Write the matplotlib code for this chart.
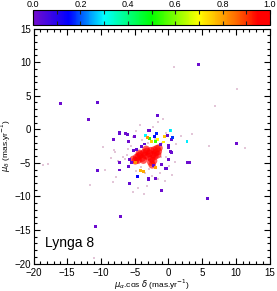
import numpy as np
import matplotlib
matplotlib.use('Agg')
import matplotlib.pyplot as plt
from matplotlib.colors import LinearSegmentedColormap
from matplotlib.ticker import MultipleLocator

plt.rcParams['font.family'] = ['Liberation Sans', 'DejaVu Sans']

# cluster members (high probability)
mem_pmra = [-5.2, -4.9, -4.7, -4.4, -4.1, -3.9, -3.6, -3.4, -3.2, -3.0, -2.8, -2.6,
            -2.5, -2.3, -2.1, -1.9, -1.7, -1.5, -2.6, -2.4, -4.5, -3.7, -1.4, -2.0,
            -3.3, -4.3, -1.6, -2.2]
mem_pmdec = [-4.5, -4.7, -4.2, -4.0, -3.8, -4.3, -3.5, -3.9, -3.3, -4.1, -3.6, -3.2,
             -4.4, -3.8, -3.1, -3.5, -2.9, -3.3, -4.9, -5.3, -4.6, -4.6, -2.8, -4.0,
             -3.0, -3.6, -3.8, -4.7]
mem_prob = [0.95, 0.97, 0.98, 0.96, 0.99, 0.97, 0.95, 0.98, 0.96, 0.97, 0.99, 0.95,
            0.96, 0.98, 0.97, 0.95, 0.96, 0.94, 0.95, 0.93, 0.97, 0.98, 0.94, 0.99,
            0.96, 0.97, 0.95, 0.96]

# stars with intermediate / low probability
pmra = [-16.0, -10.45, -11.84, -7.24, -8.13, -6.05, -2.88, 4.44, -1.55, 10.08,
        -10.5, -7.18, -5.76, -7.14, -10.74, -5.16, -2.98, 2.76, 3.2, 5.82,
        -0.95, -0.36, -1.0, -1.9, 0.43, -0.01, -0.2, 0.53, -2.79, -5.0,
        -5.9, -7.3, -6.3, 0.0, 0.28, -4.66, -5.4, -5.76, -5.9, -7.28,
        -2.94, -2.2, -0.95, -0.3, 0.0, -3.5, -4.0, -1.2,
        -3.38, 0.28, 2.76, 0.24,
        -4.6, -1.8, 0.6, -2.0, -2.8,
        -4.17, -1.94, -0.6, -0.7, -4.9, -3.68, -2.5, -1.6, -1.94, -3.1]
pmdec = [3.8, 3.98, 1.4, -0.5, -1.5, -0.72, -0.13, 9.62, 2.04, -2.06,
         -6.13, -6.07, -8.06, -12.96, -14.45, -3.1, -7.4, -4.94, -4.94, -10.33,
         -9.1, -5.88, -5.33, -7.3, -3.45, -2.7, -0.97, -1.46, -0.19, -1.07,
         -1.8, -0.57, -0.57, -2.46, -3.3, -2.95, -5.0, -4.54, -5.6, -5.0,
         -7.5, -5.4, -5.3, -5.9, -4.5, -2.2, -2.6, -2.3,
         -0.97, -0.23, -1.82, -0.23,
         -7.0, -0.68, -1.2, -1.1, -1.4,
         -6.17, -5.7, -1.07, -1.9, -5.0, -6.28, -1.8, -1.5, -1.82, -1.3]
prob = [0.01, 0.02, 0.01, 0.02, 0.01, 0.02, 0.01, 0.01, 0.02, 0.01,
        0.02, 0.01, 0.02, 0.01, 0.01, 0.02, 0.01, 0.01, 0.01, 0.02,
        0.01, 0.02, 0.02, 0.01, 0.02, 0.01, 0.02, 0.03, 0.02, 0.01,
        0.01, 0.02, 0.01, 0.02, 0.01, 0.02, 0.02, 0.01, 0.02, 0.01,
        0.02, 0.03, 0.01, 0.02, 0.01, 0.03, 0.02, 0.02,
        0.30, 0.31, 0.29, 0.28,
        0.15, 0.17, 0.18, 0.16, 0.52,
        0.78, 0.80, 0.76, 0.72, 0.82, 0.79, 0.75, 0.70, 0.55, 0.81]

# field stars (probability ~ 0)
fld_pmra = [-4.17, -4.76, -5.94, 0.83, 10.2, 6.86, -0.76, -1.55, 1.87, 3.55,
            -17.9, -18.6, -11.6, -11.0, -9.66, -8.03, -7.88, -9.4, -7.73, -8.2,
            -3.57, -5.3, 11.36, 0.92, -0.42, -0.5, -1.6, 6.07,
            -6.5, -6.0, -5.5, -3.0, -2.0, -1.0, -3.5, -2.5, -4.0, -6.8,
            -7.5, -8.5, -1.3, 0.5, -3.2, -4.5, -0.3, 1.2, -2.3, -5.2,
            -6.2, -4.8, -1.1, 0.1, -2.9, -3.9]
fld_pmdec = [0.66, -0.23, -1.82, 9.2, 6.0, 3.5, 1.5, 1.1, -0.97, -0.72,
             -5.2, -5.3, -8.3, -19.2, -2.65, -3.05, -3.35, -6.0, -7.17, -7.8,
             -9.6, -9.4, -2.86, -4.83, -4.14, -7.7, -7.4, -2.56,
             -4.5, -3.0, -2.5, -2.0, -1.5, -2.0, -6.5, -7.0, -5.7, -4.2,
             -4.8, -4.3, -6.5, -6.8, -8.5, -8.8, -0.5, -2.2, 0.3, -1.2,
             -3.8, -6.2, -4.2, -5.5, -5.9, -1.6]

cmap = LinearSegmentedColormap.from_list('idl', [
    (0.0, (0.45, 0.05, 0.80)),
    (0.15, (0.0, 0.0, 1.0)),
    (0.3, (0.0, 1.0, 1.0)),
    (0.5, (0.0, 1.0, 0.0)),
    (0.7, (1.0, 1.0, 0.0)),
    (0.85, (1.0, 0.45, 0.0)),
    (0.95, (1.0, 0.0, 0.0)),
    (1.0, (1.0, 0.0, 0.0))])

fig = plt.figure(figsize=(2.77, 2.91), dpi=100)
ax = fig.add_axes([0.121, 0.0945, 0.852, 0.8075])

ax.scatter(fld_pmra, fld_pmdec, s=2.5, marker='s', color='#e3c6d8', linewidths=0)
ax.scatter(mem_pmra, mem_pmdec, c=mem_prob, cmap=cmap, vmin=0, vmax=1, s=30,
           marker='o', linewidths=0, alpha=0.65)
ax.scatter(pmra, pmdec, c=prob, cmap=cmap, vmin=0, vmax=1, s=4.5, marker='s',
           linewidths=0)

ax.set_xlim(-20, 15)
ax.set_ylim(-20, 15)
ax.xaxis.set_major_locator(MultipleLocator(5))
ax.yaxis.set_major_locator(MultipleLocator(5))
ax.xaxis.set_minor_locator(MultipleLocator(1))
ax.yaxis.set_minor_locator(MultipleLocator(1))
ax.tick_params(which='both', direction='in', top=True, right=True, labelsize=7,
               width=0.8, pad=2)
ax.tick_params(axis='x', which='both', pad=3)
ax.tick_params(which='major', length=4)
ax.tick_params(which='minor', length=2)
for s in ax.spines.values():
    s.set_linewidth(0.8)

ax.set_xlabel(r'$\mu_\alpha$.cos $\delta$ (mas.yr$^{-1}$)', fontsize=6, va='top')
ax.xaxis.set_label_coords(0.5, -0.058)
ax.set_ylabel(r'$\mu_\delta$ (mas.yr$^{-1}$)', fontsize=6, labelpad=1)
ax.text(-18.3, -17.6, 'Lynga 8', fontsize=10)

cax = fig.add_axes([0.119, 0.914, 0.856, 0.052])
cb = fig.colorbar(plt.cm.ScalarMappable(cmap=cmap, norm=plt.Normalize(0, 1)),
                  cax=cax, orientation='horizontal')
cb.set_ticks([0, 0.2, 0.4, 0.6, 0.8, 1.0])
cb.set_ticklabels(['0.0', '0.2', '0.4', '0.6', '0.8', '1.0'])
cax.xaxis.set_minor_locator(MultipleLocator(0.1))
cax.xaxis.set_ticks_position('both')
cax.xaxis.set_label_position('top')
cax.tick_params(which='both', direction='in', labeltop=True, labelbottom=False,
                labelsize=6.5, length=3, width=0.8, pad=0.5, color='#202020')
cb.outline.set_linewidth(0.8)

fig.savefig('out.png', dpi=100)
